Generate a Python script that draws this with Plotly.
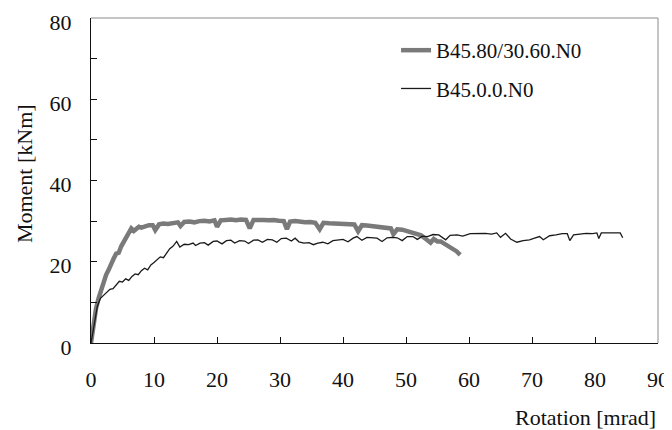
# Moment-rotation curves of two beam specimens
import plotly.graph_objects as go

# B45.80/30.60.N0 (thick grey curve)
rot_a = [0, 0.4, 0.8, 1.2, 1.6, 2.0, 2.4, 2.8, 3.2, 3.6, 4.0, 4.4, 4.8, 5.2,
         5.6, 6.0, 6.4, 6.8, 7.2, 7.6, 8.0, 8.6, 9.2, 9.8, 10.2, 10.8, 11.5,
         12.2, 13.0, 13.8, 14.2, 14.8, 15.6, 16.4, 17.2, 18.0, 18.8, 19.6,
         20.0, 20.6, 21.4, 22.2, 23.0, 23.8, 24.6, 25.2, 25.8, 26.6, 27.4,
         28.2, 29.0, 29.8, 30.6, 31.1, 31.6, 32.4, 33.2, 34.0, 34.8, 35.6,
         36.3, 36.9, 37.8, 38.6, 39.4, 40.2, 41.0, 41.8, 42.4, 43.0, 43.8,
         44.6, 45.4, 46.2, 47.0, 47.6, 48.0, 48.6, 49.4, 50.1, 50.8, 51.6,
         52.4, 53.0, 53.9, 54.4, 55.0, 55.5, 56.2, 56.8, 57.4, 58.0, 58.6]
mom_a = [0, 4.5, 8.5, 11.0, 13.0, 15.0, 16.8, 18.0, 19.6, 20.8, 22.0, 22.2,
         23.8, 25.0, 26.2, 27.4, 28.2, 27.6, 28.0, 28.6, 28.4, 28.8, 29.0,
         29.0, 27.8, 29.2, 29.4, 29.3, 29.6, 29.7, 28.8, 29.8, 29.9, 29.7,
         30.0, 30.1, 29.9, 30.2, 28.6, 30.2, 30.3, 30.4, 30.2, 30.4, 30.3,
         28.2, 30.3, 30.4, 30.3, 30.2, 30.3, 30.1, 30.0, 28.0, 29.9, 30.0,
         29.8, 29.7, 29.8, 29.6, 28.0, 29.6, 29.5, 29.4, 29.5, 29.3, 29.2,
         29.2, 27.5, 29.0, 28.9, 28.8, 28.7, 28.6, 28.4, 28.2, 26.8, 28.0,
         27.9, 27.6, 27.3, 26.9, 26.5, 25.8, 24.7, 25.6, 25.0, 25.0, 24.4,
         23.8, 23.2, 22.6, 21.7]

# B45.0.0.N0 (thin black curve)
rot_b = [0, 0.5, 1.0, 1.5, 2.0, 2.5, 3.0, 3.5, 4.0, 4.5, 5.0, 5.5, 6.0, 6.5,
         7.0, 7.5, 8.0, 8.5, 9.0, 9.5, 10.0, 10.5, 11.0, 11.5, 12.0, 12.5,
         13.0, 13.6, 14.1, 14.8, 15.5, 16.2, 16.6, 17.3, 18.0, 18.6, 19.4,
         20.0, 20.8, 21.5, 22.2, 22.8, 23.6, 24.4, 25.0, 25.8, 26.5, 27.2,
         28.0, 28.8, 29.5, 30.2, 31.0, 31.8, 32.4, 33.0, 33.8, 34.6, 35.3,
         36.0, 36.8, 37.6, 38.4, 39.2, 40.0, 40.8, 41.6, 42.2, 43.0, 43.8,
         44.6, 45.4, 46.2, 47.0, 47.8, 48.6, 49.4, 50.2, 51.1, 51.8, 52.6,
         53.4, 54.3, 55.2, 56.3, 57.0, 58.1, 59.0, 60.2, 61.4, 62.6, 63.6,
         64.4, 65.0, 65.8, 66.6, 67.6, 68.6, 69.6, 70.4, 71.2, 71.8, 72.8,
         73.8, 74.8, 75.6, 76.0, 76.6, 77.6, 78.6, 79.6, 80.3, 80.6, 81.0,
         82.0, 83.0, 84.0, 84.4]
mom_b = [0, 5.0, 9.0, 11.0, 11.8, 12.4, 13.2, 13.4, 14.4, 15.2, 15.0, 15.8,
         15.4, 16.4, 17.0, 16.8, 17.8, 18.4, 18.0, 19.2, 19.8, 20.4, 21.2,
         21.0, 22.2, 23.2, 23.8, 25.0, 23.6, 24.3, 24.2, 24.6, 24.0, 24.6,
         24.7, 24.1, 25.0, 25.1, 24.4, 25.2, 25.3, 24.6, 25.2, 25.1, 24.5,
         25.3, 25.4, 24.8, 25.5, 25.4, 24.8, 25.7, 25.8, 25.1, 25.8, 24.9,
         24.6, 24.7, 24.2, 24.6, 24.8, 24.4, 25.2, 25.3, 25.5, 24.9, 25.8,
         26.2, 25.3, 26.0, 25.9, 25.8, 25.0, 25.9, 26.0, 25.9, 25.2, 26.2,
         26.2, 25.5, 26.3, 26.2, 26.7, 26.6, 25.4, 26.5, 26.6, 26.3, 26.9,
         26.9, 27.0, 26.8, 27.1, 26.0, 27.0, 25.6, 24.8, 25.2, 25.4, 25.8,
         26.2, 25.4, 26.4, 26.6, 26.9, 26.9, 25.2, 26.6, 26.8, 27.0, 26.9,
         27.1, 25.7, 27.1, 27.1, 27.1, 27.1, 25.9]

FONT = "Liberation Serif, Times New Roman, serif"

fig = go.Figure()

fig.add_trace(go.Scatter(
    x=rot_a, y=mom_a, mode="lines", name="B45.80/30.60.N0",
    line={"color": "#7a7a7a", "width": 4.5}, legendgroup="a",
))
fig.add_trace(go.Scatter(
    x=rot_b, y=mom_b, mode="lines", name="B45.0.0.N0",
    line={"color": "#1a1a1a", "width": 1.3}, legendgroup="b",
))

# page body has an 8px margin, so the figure is a bit smaller than the window
fig.update_layout(
    width=664,
    height=422,
    margin={"l": 83, "r": 14, "t": 10, "b": 87},
    paper_bgcolor="white",
    plot_bgcolor="white",
    font={"family": FONT, "size": 22, "color": "#111111"},
    showlegend=True,
    legend={
        "x": 0.538, "y": 0.963, "xanchor": "left", "yanchor": "top",
        "bgcolor": "rgba(0,0,0,0)", "font": {"size": 21},
        "traceorder": "grouped", "tracegroupgap": 8,
    },
    annotations=[
        dict(text="Moment [kNm]", textangle=-90, xref="paper", yref="paper",
             x=-0.118, y=0.52, xanchor="center", yanchor="middle",
             showarrow=False, font={"size": 22}),
        dict(text="Rotation [mrad]", xref="paper", yref="paper",
             x=1.0, y=-0.228, xanchor="right", yanchor="middle",
             showarrow=False, font={"size": 22}),
    ],
    shapes=[
        dict(type="line", xref="paper", yref="paper", x0=0, x1=1, y0=1, y1=1,
             line={"color": "#8a8a8a", "width": 1}),
        dict(type="line", xref="paper", yref="paper", x0=1, x1=1, y0=0, y1=1,
             line={"color": "#8a8a8a", "width": 1}),
    ],
)

fig.update_xaxes(
    range=[0, 90],
    tick0=0, dtick=10,
    ticks="inside", ticklen=6, tickcolor="#111111",
    showline=True, linecolor="#111111", linewidth=1.3,
    showgrid=False, zeroline=False,
    ticklabelstandoff=16,
    ticklabeloverflow="allow",
    automargin=False,
)

fig.update_yaxes(
    range=[0, 80],
    tick0=0, dtick=20,
    ticks="inside", ticklen=6, tickcolor="#111111",
    minor={"dtick": 10, "ticks": "inside", "ticklen": 6,
           "tickcolor": "#111111", "showgrid": False},
    showline=True, linecolor="#111111", linewidth=1.3,
    showgrid=False, zeroline=False,
    ticklabelstandoff=14,
    ticklabelshift=4,
    ticklabeloverflow="allow",
    automargin=False,
)

fig.write_html("out.html")
